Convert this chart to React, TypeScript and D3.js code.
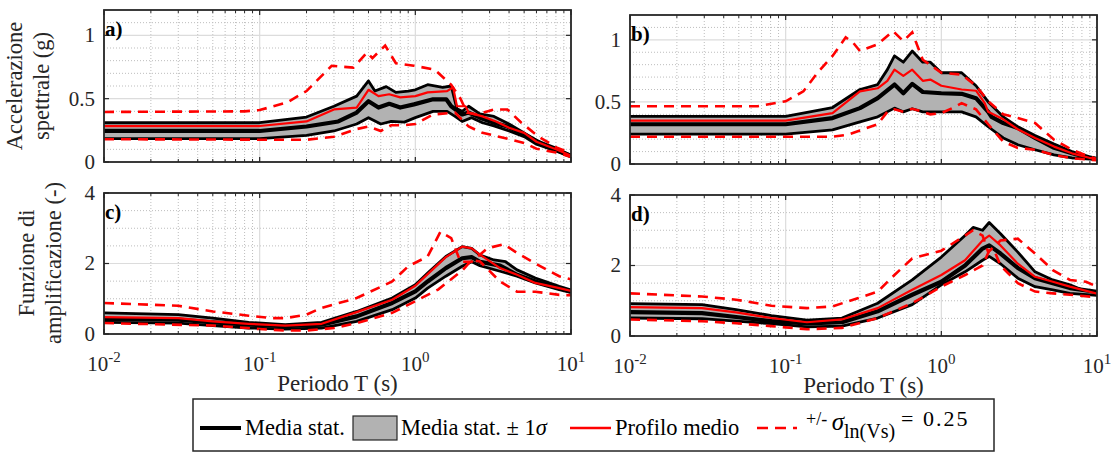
import React from 'react';
import * as d3 from 'd3';

type P = [number, number];

// ---------- axis ticks ----------
const xTickValues = [0.01, 0.1, 1, 10];
const xTickExp = ['-2', '-1', '0', '1'];
const accTicks = [0, 0.5, 1];
const accTickLabels = ['0', '0.5', '1'];
const ampTicks = [0, 2, 4];
const ampTickLabels = ['0', '2', '4'];

// ---------- panel a: spectral acceleration (g) ----------
const aMean: P[] = [[0.01,0.245],[0.1,0.245],[0.2,0.28],[0.32,0.32],[0.42,0.39],[0.5,0.48],[0.58,0.43],[0.68,0.46],[0.8,0.43],[0.98,0.455],[1.3,0.495],[1.58,0.495],[1.7,0.44],[2.0,0.375],[2.2,0.39],[2.6,0.35],[3.2,0.31],[3.9,0.28],[4.8,0.23],[5.9,0.17],[7,0.12],[8.2,0.09],[10,0.05]];
const aUp: P[] = [[0.01,0.31],[0.1,0.31],[0.2,0.355],[0.3,0.44],[0.42,0.52],[0.5,0.64],[0.55,0.56],[0.65,0.595],[0.75,0.55],[0.9,0.56],[1.0,0.57],[1.2,0.61],[1.5,0.59],[1.7,0.6],[1.85,0.42],[2.0,0.4],[2.2,0.44],[2.6,0.38],[3.2,0.36],[4,0.3],[5,0.23],[6,0.17],[8,0.11],[10,0.05]];
const aLow: P[] = [[0.01,0.185],[0.1,0.185],[0.2,0.21],[0.3,0.245],[0.42,0.3],[0.5,0.35],[0.6,0.3],[0.7,0.32],[0.85,0.315],[1.0,0.35],[1.3,0.4],[1.6,0.4],[1.8,0.36],[2.0,0.32],[2.3,0.35],[2.7,0.31],[3.2,0.285],[4,0.245],[5,0.2],[6,0.14],[8,0.087],[10,0.04]];
const aRed: P[] = [[0.01,0.284],[0.1,0.284],[0.2,0.32],[0.3,0.415],[0.42,0.43],[0.5,0.57],[0.58,0.52],[0.68,0.535],[0.8,0.51],[1.0,0.52],[1.2,0.55],[1.6,0.56],[1.75,0.59],[1.85,0.44],[2.1,0.44],[2.2,0.39],[2.7,0.36],[3.3,0.32],[4,0.27],[5,0.23],[6,0.16],[8,0.1],[10,0.05]];
const aDashUp: P[] = [[0.01,0.395],[0.08,0.4],[0.1,0.41],[0.15,0.47],[0.2,0.56],[0.25,0.68],[0.29,0.76],[0.4,0.745],[0.49,0.865],[0.53,0.82],[0.64,0.92],[0.75,0.78],[0.98,0.76],[1.33,0.73],[1.7,0.61],[1.95,0.5],[2.15,0.39],[2.5,0.375],[3.2,0.415],[3.9,0.415],[4.8,0.31],[6.2,0.2],[8.2,0.11],[10,0.07]];
const aDashLow: P[] = [[0.01,0.18],[0.2,0.175],[0.3,0.2],[0.42,0.26],[0.5,0.28],[0.6,0.245],[0.7,0.29],[0.85,0.29],[1.0,0.3],[1.3,0.375],[1.8,0.39],[2.2,0.28],[2.7,0.23],[3.2,0.21],[4,0.18],[5,0.15],[6,0.105],[8,0.075],[10,0.04]];

// ---------- panel b ----------
const bMean: P[] = [[0.01,0.32],[0.1,0.32],[0.2,0.37],[0.3,0.45],[0.39,0.53],[0.5,0.64],[0.57,0.57],[0.65,0.645],[0.76,0.58],[1.0,0.57],[1.35,0.565],[1.67,0.53],[2.0,0.42],[2.1,0.38],[2.5,0.33],[3.1,0.29],[4,0.21],[5.3,0.13],[6.9,0.086],[8.9,0.05],[10,0.04]];
const bUp: P[] = [[0.01,0.384],[0.1,0.384],[0.2,0.455],[0.3,0.6],[0.39,0.64],[0.45,0.76],[0.5,0.87],[0.57,0.82],[0.65,0.91],[0.76,0.82],[0.85,0.82],[1.0,0.735],[1.35,0.735],[1.67,0.63],[2.0,0.5],[2.5,0.38],[3.1,0.3],[4,0.23],[5.3,0.16],[6.9,0.1],[8.9,0.06],[10,0.045]];
const bLow: P[] = [[0.01,0.24],[0.1,0.24],[0.2,0.275],[0.3,0.34],[0.39,0.38],[0.5,0.45],[0.57,0.42],[0.65,0.445],[0.76,0.42],[1.0,0.42],[1.35,0.42],[1.67,0.38],[2.0,0.3],[2.5,0.21],[3.1,0.155],[4,0.115],[5.3,0.073],[6.9,0.05],[10,0.035]];
const bRed: P[] = [[0.01,0.35],[0.1,0.35],[0.2,0.41],[0.3,0.585],[0.39,0.61],[0.45,0.67],[0.5,0.76],[0.57,0.71],[0.65,0.76],[0.76,0.67],[0.85,0.68],[1.0,0.63],[1.35,0.6],[1.67,0.59],[1.9,0.49],[2.0,0.42],[2.5,0.36],[3.1,0.28],[4,0.21],[5.3,0.14],[6.9,0.086],[8.9,0.05],[10,0.04]];
const bDashUp: P[] = [[0.01,0.465],[0.066,0.465],[0.1,0.505],[0.13,0.585],[0.16,0.735],[0.2,0.87],[0.243,1.02],[0.27,0.98],[0.3,0.91],[0.39,0.965],[0.49,1.07],[0.57,0.99],[0.65,1.06],[0.76,0.84],[1.0,0.735],[1.35,0.72],[1.67,0.63],[2.0,0.505],[2.5,0.4],[3.1,0.37],[4,0.33],[5.3,0.195],[6.9,0.115],[8.9,0.06],[10,0.04]];
const bDashLow: P[] = [[0.01,0.22],[0.2,0.22],[0.25,0.235],[0.3,0.27],[0.39,0.32],[0.45,0.42],[0.5,0.44],[0.57,0.42],[0.65,0.445],[0.76,0.42],[0.85,0.4],[1.0,0.41],[1.2,0.455],[1.35,0.49],[1.67,0.44],[2.0,0.32],[2.5,0.18],[3.1,0.13],[4,0.115],[5.3,0.073],[6.9,0.046],[10,0.03]];

// ---------- panel c: amplification function ----------
const cMean: P[] = [[0.01,0.425],[0.03,0.41],[0.05,0.33],[0.085,0.265],[0.146,0.22],[0.25,0.265],[0.42,0.5],[0.71,0.88],[1.0,1.21],[1.2,1.49],[1.57,1.87],[2.0,2.15],[2.3,2.18],[2.6,2.05],[3.5,1.94],[4.5,1.68],[5.9,1.49],[8.4,1.3],[10,1.2]];
const cUp: P[] = [[0.01,0.6],[0.03,0.55],[0.05,0.45],[0.085,0.33],[0.146,0.265],[0.25,0.33],[0.42,0.64],[0.71,1.02],[1.0,1.4],[1.2,1.73],[1.57,2.2],[2.0,2.48],[2.3,2.43],[2.6,2.24],[3.2,2.1],[3.8,2.05],[4.5,1.82],[5.9,1.59],[8.4,1.35],[10,1.25]];
const cLow: P[] = [[0.01,0.33],[0.03,0.31],[0.05,0.24],[0.085,0.17],[0.146,0.14],[0.25,0.17],[0.42,0.36],[0.71,0.69],[1.0,1.02],[1.2,1.3],[1.57,1.64],[2.0,1.92],[2.3,2.05],[2.6,1.94],[3.5,1.78],[4.5,1.64],[5.9,1.45],[8.4,1.26],[10,1.18]];
const cRed: P[] = [[0.01,0.48],[0.03,0.45],[0.05,0.36],[0.085,0.29],[0.146,0.24],[0.25,0.29],[0.42,0.62],[0.71,0.97],[1.0,1.37],[1.2,1.7],[1.57,2.18],[2.0,2.48],[2.3,2.43],[2.6,2.25],[3.5,1.87],[4.5,1.68],[5.9,1.45],[8.4,1.3],[10,1.22]];
const cDashUp: P[] = [[0.01,0.88],[0.03,0.8],[0.05,0.64],[0.085,0.52],[0.12,0.45],[0.146,0.45],[0.2,0.55],[0.25,0.74],[0.42,1.02],[0.71,1.49],[0.9,1.92],[1.2,2.2],[1.45,2.9],[1.7,2.72],[1.95,2.05],[2.3,2.05],[2.9,2.43],[3.7,2.55],[4.5,2.3],[5.9,2.0],[8.4,1.64],[10,1.55]];
const cDashLow: P[] = [[0.01,0.31],[0.05,0.24],[0.1,0.14],[0.146,0.1],[0.2,0.1],[0.3,0.17],[0.42,0.31],[0.71,0.6],[1.0,0.93],[1.4,1.26],[2.0,1.8],[2.3,2.1],[2.6,2.06],[3.5,1.49],[4.5,1.2],[5.9,1.2],[8.4,1.11],[10,1.1]];

// ---------- panel d ----------
const dMean: P[] = [[0.01,0.68],[0.029,0.65],[0.048,0.54],[0.081,0.42],[0.137,0.355],[0.23,0.39],[0.39,0.7],[0.65,1.17],[1.0,1.54],[1.42,2.0],[1.84,2.48],[2.03,2.57],[2.4,2.34],[3.1,1.93],[4,1.64],[5.2,1.5],[6.7,1.36],[10,1.25]];
const dUp: P[] = [[0.01,0.92],[0.029,0.89],[0.048,0.75],[0.081,0.58],[0.137,0.45],[0.23,0.51],[0.39,0.93],[0.65,1.59],[1.0,2.24],[1.42,2.85],[1.6,3.08],[1.84,3.0],[2.03,3.22],[2.4,2.9],[3.1,2.38],[4,1.82],[5.2,1.59],[6.7,1.45],[8,1.31],[10,1.25]];
const dLow: P[] = [[0.01,0.51],[0.029,0.49],[0.048,0.42],[0.081,0.35],[0.137,0.26],[0.23,0.28],[0.39,0.51],[0.65,0.89],[1.0,1.45],[1.42,1.82],[1.84,2.15],[2.03,2.26],[2.4,2.05],[3.1,1.64],[4,1.4],[5.2,1.31],[6.7,1.21],[10,1.15]];
const dRed: P[] = [[0.01,0.82],[0.029,0.79],[0.048,0.67],[0.081,0.51],[0.137,0.39],[0.23,0.47],[0.39,0.79],[0.65,1.31],[1.0,1.73],[1.42,2.15],[1.84,2.71],[2.03,2.85],[2.4,2.57],[3.1,2.05],[4,1.68],[5.2,1.54],[6.7,1.4],[10,1.2]];
const dDashUp: P[] = [[0.01,1.21],[0.029,1.12],[0.048,1.03],[0.081,0.86],[0.137,0.79],[0.2,0.84],[0.29,1.07],[0.39,1.26],[0.5,1.73],[0.65,2.2],[1.0,2.42],[1.42,2.85],[1.6,3.0],[1.84,2.85],[2.0,2.38],[2.4,2.71],[3.1,2.76],[4,2.34],[5.2,1.87],[6.7,1.59],[8.5,1.54],[10,1.4]];
const dDashLow: P[] = [[0.01,0.47],[0.029,0.42],[0.048,0.36],[0.081,0.28],[0.137,0.19],[0.23,0.23],[0.39,0.51],[0.65,0.93],[1.0,1.4],[1.42,1.73],[1.84,2.0],[2.03,2.42],[2.2,2.4],[2.4,2.0],[3.1,1.5],[4,1.26],[5.2,1.21],[6.7,1.17],[10,1.1]];

const FONT = "'Liberation Serif', Tinos, 'Times New Roman', Times, 'DejaVu Serif', serif";
const AXIS = '#262626';
const RED = '#ff0000';

interface Series { mean: P[]; up: P[]; low: P[]; red: P[]; dashUp: P[]; dashLow: P[]; }
interface PanelProps {
  id: string; x0: number; x1: number; y0: number; y1: number; ymax: number;
  yTicks: number[]; yTickLabels: string[]; yMinor: number; showX: boolean; label: string; s: Series;
}

function Panel({ id, x0, x1, y0, y1, ymax, yTicks, yTickLabels, yMinor, showX, label, s }: PanelProps) {
  const xs = d3.scaleLog().domain([0.01, 10]).range([x0, x1]);
  const ys = d3.scaleLinear().domain([0, ymax]).range([y1, y0]);
  const line = d3.line<P>().x(d => xs(d[0])).y(d => ys(d[1]));
  const band = (line(s.up.concat([...s.low].reverse())) || '') + 'Z';
  const minorX: number[] = [];
  for (let e = -2; e < 1; e++) for (let k = 2; k <= 9; k++) minorX.push(k * Math.pow(10, e));
  const minorY = d3.range(yMinor, ymax, yMinor).filter(v => !yTicks.some(t => Math.abs(t - v) < 1e-9));
  return (
    <g>
      <defs>
        <clipPath id={'clip' + id}><rect x={x0} y={y0} width={x1 - x0} height={y1 - y0} /></clipPath>
      </defs>
      <rect x={x0} y={y0} width={x1 - x0} height={y1 - y0} fill="#fff" />
      {minorX.map((v, i) => (
        <line key={'mx' + i} x1={xs(v)} x2={xs(v)} y1={y0} y2={y1} stroke="#bdbdbd" strokeWidth={1} strokeDasharray="1,2" />
      ))}
      {minorY.map((v, i) => (
        <line key={'my' + i} x1={x0} x2={x1} y1={ys(v)} y2={ys(v)} stroke="#bdbdbd" strokeWidth={1} strokeDasharray="1,2" />
      ))}
      {xTickValues.map((v, i) => (
        <line key={'gx' + i} x1={xs(v)} x2={xs(v)} y1={y0} y2={y1} stroke="#dcdcdc" strokeWidth={1.2} />
      ))}
      {yTicks.map((v, i) => (
        <line key={'gy' + i} x1={x0} x2={x1} y1={ys(v)} y2={ys(v)} stroke="#dcdcdc" strokeWidth={1.2} />
      ))}
      <g clipPath={`url(#clip${id})`}>
        <path d={band} fill="#b2b2b2" stroke="none" />
        <path d={line(s.up) || ''} fill="none" stroke="#000" strokeWidth={2.8} strokeLinejoin="round" />
        <path d={line(s.low) || ''} fill="none" stroke="#000" strokeWidth={2.8} strokeLinejoin="round" />
        <path d={line(s.mean) || ''} fill="none" stroke="#000" strokeWidth={4.2} strokeLinejoin="round" />
        <path d={line(s.red) || ''} fill="none" stroke={RED} strokeWidth={2.2} strokeLinejoin="round" />
        <path d={line(s.dashUp) || ''} fill="none" stroke={RED} strokeWidth={2.6} strokeDasharray="10,7" />
        <path d={line(s.dashLow) || ''} fill="none" stroke={RED} strokeWidth={2.6} strokeDasharray="10,7" />
      </g>
      {xTickValues.map((v, i) => (
        <g key={'tx' + i}>
          <line x1={xs(v)} x2={xs(v)} y1={y1} y2={y1 - 5} stroke={AXIS} strokeWidth={1.2} />
          <line x1={xs(v)} x2={xs(v)} y1={y0} y2={y0 + 5} stroke={AXIS} strokeWidth={1.2} />
        </g>
      ))}
      {minorX.map((v, i) => (
        <g key={'tmx' + i}>
          <line x1={xs(v)} x2={xs(v)} y1={y1} y2={y1 - 3} stroke={AXIS} strokeWidth={1} />
          <line x1={xs(v)} x2={xs(v)} y1={y0} y2={y0 + 3} stroke={AXIS} strokeWidth={1} />
        </g>
      ))}
      {yTicks.map((v, i) => (
        <g key={'ty' + i}>
          <line x1={x0} x2={x0 + 5} y1={ys(v)} y2={ys(v)} stroke={AXIS} strokeWidth={1.2} />
          <line x1={x1} x2={x1 - 5} y1={ys(v)} y2={ys(v)} stroke={AXIS} strokeWidth={1.2} />
          <text x={x0 - 9} y={ys(v)} dy="0.33em" textAnchor="end" style={{ fontFamily: FONT }} fontSize={21} fill={AXIS}>{yTickLabels[i]}</text>
        </g>
      ))}
      <rect x={x0} y={y0} width={x1 - x0} height={y1 - y0} fill="none" stroke={AXIS} strokeWidth={1.8} />
      {showX && xTickValues.map((v, i) => (
        <text key={'xl' + i} x={xs(v)} y={y1 + 37} textAnchor="middle" style={{ fontFamily: FONT }} fontSize={21} fill={AXIS}>
          10<tspan dy="-9" fontSize={15}>{xTickExp[i]}</tspan>
        </text>
      ))}
      {showX && (
        <text x={(x0 + x1) / 2} y={y1 + 57} textAnchor="middle" style={{ fontFamily: FONT }} fontSize={23} fill={AXIS}>Periodo T (s)</text>
      )}
      <text x={x0 + 1} y={y0 + 26} style={{ fontFamily: FONT }} fontSize={21} fontWeight="bold" fill="#000">{label}</text>
    </g>
  );
}

export default function App() {
  const aS: Series = { mean: aMean, up: aUp, low: aLow, red: aRed, dashUp: aDashUp, dashLow: aDashLow };
  const bS: Series = { mean: bMean, up: bUp, low: bLow, red: bRed, dashUp: bDashUp, dashLow: bDashLow };
  const cS: Series = { mean: cMean, up: cUp, low: cLow, red: cRed, dashUp: cDashUp, dashLow: cDashLow };
  const dS: Series = { mean: dMean, up: dUp, low: dLow, red: dRed, dashUp: dDashUp, dashLow: dDashLow };
  const legY = 428;
  const LF = 22.5;
  return (
    <svg width={1111} height={453} style={{ position: 'fixed', left: 0, top: 0, background: '#fff', fontFamily: FONT }}>
      <rect x={0} y={0} width={1111} height={453} fill="#fff" />
      <Panel id="a" x0={104} x1={571} y0={10} y1={162} ymax={1.2} yTicks={accTicks} yTickLabels={accTickLabels} yMinor={0.1} showX={false} label="a)" s={aS} />
      <Panel id="b" x0={630} x1={1097} y0={15} y1={164} ymax={1.2} yTicks={accTicks} yTickLabels={accTickLabels} yMinor={0.1} showX={false} label="b)" s={bS} />
      <Panel id="c" x0={104} x1={571} y0={193} y1={334} ymax={4} yTicks={ampTicks} yTickLabels={ampTickLabels} yMinor={0.5} showX={true} label="c)" s={cS} />
      <Panel id="d" x0={630} x1={1097} y0={195} y1={336} ymax={4} yTicks={ampTicks} yTickLabels={ampTickLabels} yMinor={0.5} showX={true} label="d)" s={dS} />
      <text transform="translate(22,86) rotate(-90)" textAnchor="middle" style={{ fontFamily: FONT }} fontSize={22.5} fill={AXIS}>
        <tspan x={0} dy="0">Accelerazione</tspan>
        <tspan x={0} dy="27">spettrale (g)</tspan>
      </text>
      <text transform="translate(34,263) rotate(-90)" textAnchor="middle" style={{ fontFamily: FONT }} fontSize={22.5} fill={AXIS}>
        <tspan x={0} dy="0">Funzione di</tspan>
        <tspan x={0} dy="27">amplificazione (-)</tspan>
      </text>
      <rect x={193} y={399} width={801} height={52} fill="#fff" stroke={AXIS} strokeWidth={1.5} />
      <line x1={200} x2={241} y1={legY} y2={legY} stroke="#000" strokeWidth={4} />
      <text x={245} y={legY + 7} style={{ fontFamily: FONT }} fontSize={LF} fill="#000">Media stat.</text>
      <rect x={353} y={legY - 12} width={44} height={24} fill="#b2b2b2" stroke={AXIS} strokeWidth={1.2} />
      <text x={401} y={legY + 7} style={{ fontFamily: FONT }} fontSize={LF} fill="#000">Media stat. ± 1<tspan fontStyle="italic">σ</tspan></text>
      <line x1={570} x2={611} y1={legY} y2={legY} stroke={RED} strokeWidth={2.5} />
      <text x={615} y={legY + 7} style={{ fontFamily: FONT }} fontSize={LF} fill="#000">Profilo medio</text>
      <line x1={757} x2={797} y1={legY} y2={legY} stroke={RED} strokeWidth={2.5} strokeDasharray="11,7" />
      <text x={806} y={legY + 1} style={{ fontFamily: FONT }} fontSize={LF} fill="#000">
        <tspan fontSize={18} dy="-4">+/- </tspan>
        <tspan fontStyle="italic" fontSize={25} dy="5">σ</tspan>
        <tspan fontSize={20} dy="8">ln(Vs)</tspan>
        <tspan fontSize={22} dx="6" dy="-12" letterSpacing="2">= 0.25</tspan>
      </text>
    </svg>
  );
}
